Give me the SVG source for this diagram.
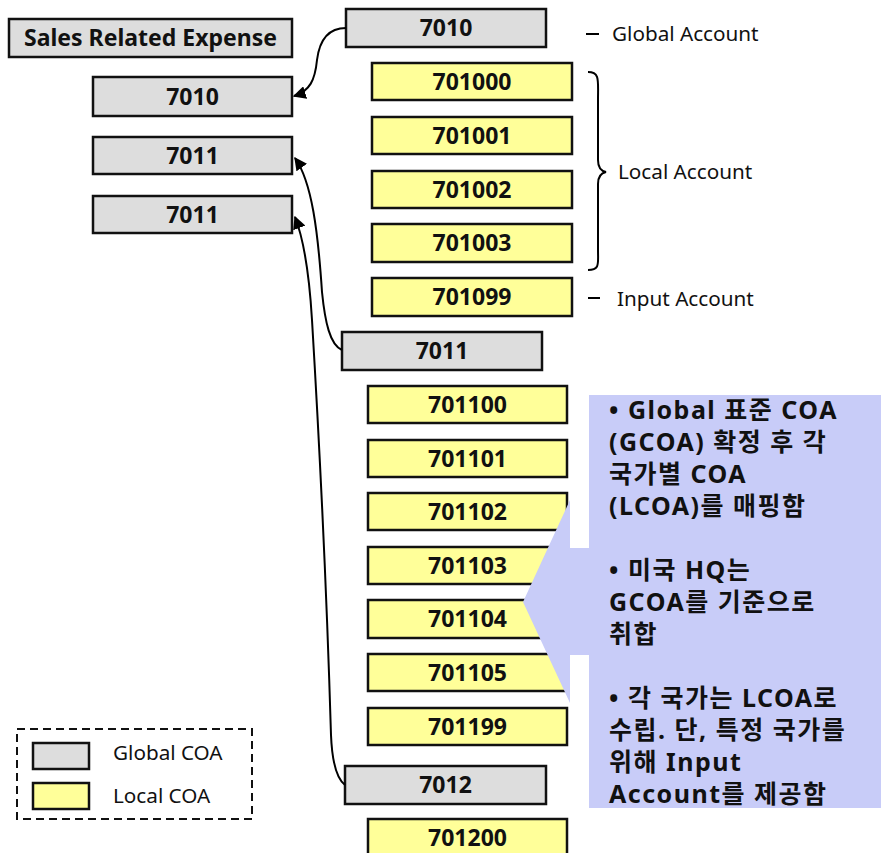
<svg xmlns="http://www.w3.org/2000/svg" width="881" height="853" viewBox="0 0 881 853">
  <style>
    .g rect { fill: #DDDDDD; stroke: #111; stroke-width: 2.5; }
    .y rect { fill: #FFFF99; stroke: #111; stroke-width: 2.5; }
    .lbl { font-family: "Noto Sans", "Noto Sans CJK KR", sans-serif; font-weight: bold; font-size: 23px; fill: #111; text-anchor: middle; }
    .note { font-family: "Noto Sans", "Noto Sans CJK KR", sans-serif; font-size: 20.7px; fill: #111; }
    .call { font-family: "Noto Sans", "Noto Sans CJK KR", sans-serif; font-weight: bold; font-size: 25px; letter-spacing: 1.5px; fill: #111; }
    .wire { fill: none; stroke: #000; stroke-width: 2; }
  </style>
  <defs>
    <marker id="arrow" viewBox="0 0 10 10" refX="9" refY="5" markerWidth="6.5" markerHeight="6.5" orient="auto" markerUnits="strokeWidth">
      <path d="M0,0 L10,5 L0,10 z" fill="#000"/>
    </marker>
  </defs>

  <!-- global account column (left) -->
  <g id="sales-related-expense" class="g"><rect x="9" y="19" width="283" height="38"/><text class="lbl" x="150.5" y="46">Sales Related Expense</text></g>
  <g id="g-7010-left" class="g"><rect x="93" y="77" width="199" height="39"/><text class="lbl" x="192.5" y="105">7010</text></g>
  <g id="g-7011-left-a" class="g"><rect x="93" y="137" width="199" height="37"/><text class="lbl" x="192.5" y="164">7011</text></g>
  <g id="g-7011-left-b" class="g"><rect x="93" y="196" width="199" height="37"/><text class="lbl" x="192.5" y="223">7011</text></g>

  <!-- 7010 group -->
  <g id="g-7010" class="g"><rect x="346" y="9" width="200" height="38"/><text class="lbl" x="446" y="36">7010</text></g>
  <g id="l-701000" class="y"><rect x="372" y="63" width="200" height="37"/><text class="lbl" x="472" y="90">701000</text></g>
  <g id="l-701001" class="y"><rect x="372" y="117" width="200" height="37"/><text class="lbl" x="472" y="144">701001</text></g>
  <g id="l-701002" class="y"><rect x="372" y="171" width="200" height="37"/><text class="lbl" x="472" y="198">701002</text></g>
  <g id="l-701003" class="y"><rect x="372" y="224" width="200" height="38"/><text class="lbl" x="472" y="251">701003</text></g>
  <g id="l-701099" class="y"><rect x="372" y="278" width="200" height="38"/><text class="lbl" x="472" y="305">701099</text></g>

  <!-- 7011 group -->
  <g id="g-7011" class="g"><rect x="342" y="332" width="200" height="38"/><text class="lbl" x="442" y="359">7011</text></g>
  <g id="l-701100" class="y"><rect x="368" y="386" width="199" height="37"/><text class="lbl" x="467.5" y="413">701100</text></g>
  <g id="l-701101" class="y"><rect x="368" y="440" width="199" height="37"/><text class="lbl" x="467.5" y="467">701101</text></g>
  <g id="l-701102" class="y"><rect x="368" y="493" width="199" height="37"/><text class="lbl" x="467.5" y="520">701102</text></g>
  <g id="l-701103" class="y"><rect x="368" y="547" width="199" height="37"/><text class="lbl" x="467.5" y="574">701103</text></g>
  <g id="l-701104" class="y"><rect x="368" y="600" width="199" height="38"/><text class="lbl" x="467.5" y="627">701104</text></g>
  <g id="l-701105" class="y"><rect x="368" y="654" width="199" height="37"/><text class="lbl" x="467.5" y="681">701105</text></g>
  <g id="l-701199" class="y"><rect x="368" y="708" width="199" height="37"/><text class="lbl" x="467.5" y="735">701199</text></g>

  <!-- 7012 group -->
  <g id="g-7012" class="g"><rect x="345" y="766" width="201" height="38"/><text class="lbl" x="445.5" y="793">7012</text></g>
  <g id="l-701200" class="y"><rect x="368" y="819" width="199" height="40"/><text class="lbl" x="467.5" y="846">701200</text></g>

  <!-- connectors -->
  <g id="connectors">
    <path class="wire" marker-end="url(#arrow)" d="M346,28 C326,28 319,44 317,60 C315,80 310,91 294,96"/>
    <path class="wire" marker-end="url(#arrow)" d="M342,350 C330,345 325,322 322,292 C318,232 312,182 295,158"/>
    <path class="wire" marker-end="url(#arrow)" d="M345,785 C336,778 332,760 331,735 C327,600 318,420 312,320 C309,270 304,240 295,217"/>
  </g>

  <!-- annotations -->
  <g id="note-global">
    <line x1="586" y1="34" x2="599" y2="34" stroke="#000" stroke-width="2"/>
    <text class="note" x="612" y="41">Global Account</text>
  </g>
  <g id="note-local">
    <path d="M588,72 C600,72 598,80 598,100 L598,160 C598,168 601,171 606,172 C601,173 598,176 598,184 L598,250 C598,264 600,270 588,270" fill="none" stroke="#000" stroke-width="2"/>
    <text class="note" x="618" y="179">Local Account</text>
  </g>
  <g id="note-input">
    <line x1="588" y1="298" x2="600" y2="298" stroke="#000" stroke-width="2"/>
    <text class="note" x="617" y="306">Input Account</text>
  </g>

  <!-- callout -->
  <g id="callout">
    <path d="M589,395 L881,395 L881,808 L589,808 L589,655 L570,655 L570,703 L523,602 L570,500 L570,548 L589,548 Z" fill="#C8CCF8"/>
    <text class="call" x="609" y="419">• Global 표준 COA</text>
    <text class="call" x="609" y="451">(GCOA) 확정 후 각</text>
    <text class="call" x="609" y="483">국가별 COA</text>
    <text class="call" x="609" y="515">(LCOA)를 매핑함</text>
    <text class="call" x="609" y="579">• 미국 HQ는</text>
    <text class="call" x="609" y="611">GCOA를 기준으로</text>
    <text class="call" x="609" y="643">취합</text>
    <text class="call" x="609" y="707">• 각 국가는 LCOA로</text>
    <text class="call" x="609" y="739">수립. 단, 특정 국가를</text>
    <text class="call" x="609" y="771">위해 Input</text>
    <text class="call" x="609" y="803">Account를 제공함</text>
  </g>

  <!-- legend -->
  <g id="legend">
    <rect x="17" y="729" width="235" height="90" fill="none" stroke="#111" stroke-width="2" stroke-dasharray="8,5"/>
    <rect x="33" y="743" width="56" height="26" fill="#DDDDDD" stroke="#111" stroke-width="2.5"/>
    <text class="note" x="113" y="760">Global COA</text>
    <rect x="33" y="783" width="56" height="26" fill="#FFFF99" stroke="#111" stroke-width="2.5"/>
    <text class="note" x="113" y="803">Local COA</text>
  </g>
</svg>
